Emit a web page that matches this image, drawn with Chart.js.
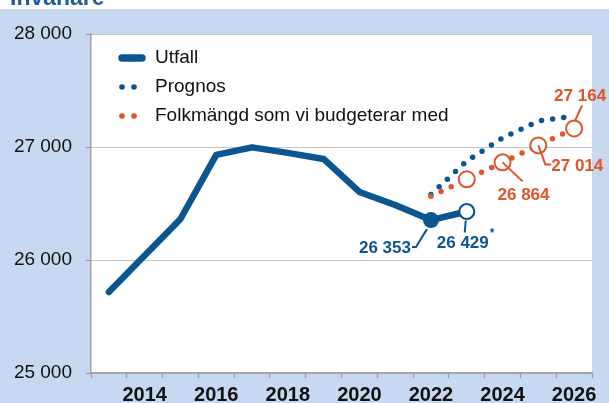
<!DOCTYPE html>
<html>
<head>
<meta charset="utf-8">
<script src="https://cdn.jsdelivr.net/npm/chart.js@4"></script>
<style>
  html, body { margin: 0; padding: 0; background: #fff; overflow: hidden; }
  canvas { display: block; }
</style>
</head>
<body>
<canvas id="myChart" width="609" height="403"></canvas>
<script>
// Data
var years = ['2013', '2014', '2015', '2016', '2017', '2018', '2019', '2020', '2021', '2022', '2023', '2024', '2025', '2026'];
var utfall = [25717, 26040, 26363, 26930, 26997, 26948, 26894, 26602, 26487, 26353, 26429, null, null, null];
var prognos = [null, null, null, null, null, null, null, null, null, 26580, 26876, 27080, 27230, 27274];
var budget = [null, null, null, null, null, null, null, null, null, 26564, 26714, 26864, 27014, 27164];
var seriesNames = ['Utfall', 'Prognos', 'Folkmängd som vi budgeterar med'];
var yMin = 25000, yMax = 28000, yStep = 1000;

var BLUE = '#0b5591';
var ORANGE = '#e0532b';
var FONT = '"Liberation Sans", Arial, sans-serif';

function fmt(v) {
  return String(v).replace(/\B(?=(\d{3})+(?!\d))/g, ' ');
}

// point styling per year: filled dot on last outcome year, open circle on the preliminary one
var utfallRadius = utfall.map(function (v, i) { return i === 9 ? 8 : (i === 10 ? 7.5 : 0); });
var utfallFill = utfall.map(function (v, i) { return i === 10 ? '#fff' : BLUE; });
var utfallBorderW = utfall.map(function (v, i) { return i === 10 ? 2.2 : 0; });
var budgetRadius = budget.map(function (v, i) { return i >= 10 ? 8 : 0; });

// background + title
var bgPlugin = {
  id: 'bg',
  beforeDraw: function (chart) {
    var ctx = chart.ctx, a = chart.chartArea;
    ctx.save();
    ctx.fillStyle = '#c6d9f0';
    ctx.fillRect(0, 9, chart.width, chart.height - 9);
    ctx.fillStyle = '#fff';
    ctx.fillRect(a.left, a.top, a.right - a.left, a.bottom - a.top);
    ctx.fillStyle = '#1f5d99';
    ctx.font = 'bold 23px ' + FONT;
    ctx.textBaseline = 'alphabetic';
    ctx.fillText('Invånare', 10, 5);
    ctx.restore();
  }
};

// legend drawn inside the plot area
var legendPlugin = {
  id: 'innerLegend',
  afterDraw: function (chart) {
    var ctx = chart.ctx, a = chart.chartArea;
    var x0 = a.left + 27, tx = a.left + 64;
    var rows = [a.top + 24, a.top + 53, a.top + 82];
    ctx.save();
    // Utfall: thick bar
    ctx.strokeStyle = BLUE;
    ctx.lineWidth = 7.5;
    ctx.lineCap = 'round';
    ctx.beginPath();
    ctx.moveTo(x0 + 4, rows[0]);
    ctx.lineTo(x0 + 24, rows[0]);
    ctx.stroke();
    // dotted series: two dots
    [BLUE, ORANGE].forEach(function (c, k) {
      ctx.fillStyle = c;
      [x0 + 4, x0 + 16].forEach(function (dx) {
        ctx.beginPath();
        ctx.arc(dx, rows[k + 1], 2.8, 0, Math.PI * 2);
        ctx.fill();
      });
    });
    ctx.fillStyle = '#111';
    ctx.font = '19px ' + FONT;
    ctx.textBaseline = 'middle';
    seriesNames.forEach(function (n, k) { ctx.fillText(n, tx, rows[k]); });
    ctx.restore();
  }
};

// value labels with leader lines, anchored to data points
var callouts = [
  { ds: 0, i: 9, dx: -46, dy: 28, line: [[-4, 9], [-15, 27], [-19, 27]] },
  { ds: 0, i: 10, dx: -4, dy: 32, line: [[-1, 9], [-2, 21]], star: true },
  { ds: 2, i: 11, dx: 21, dy: 33, line: [[0, 0], [20, 19]] },
  { ds: 2, i: 12, dx: 39, dy: 21, line: [[0, 0], [7, 19], [13, 19]] },
  { ds: 2, i: 13, dx: 6, dy: -32, line: [[1, -8], [8, -23]] }
];
var calloutPlugin = {
  id: 'callouts',
  afterDatasetsDraw: function (chart) {
    var ctx = chart.ctx;
    ctx.save();
    callouts.forEach(function (c) {
      var ds = chart.data.datasets[c.ds];
      var pt = chart.getDatasetMeta(c.ds).data[c.i];
      var col = ds.borderColor;
      ctx.strokeStyle = col;
      ctx.lineWidth = 2;
      ctx.lineCap = 'butt';
      ctx.beginPath();
      c.line.forEach(function (p, k) {
        if (k === 0) ctx.moveTo(pt.x + p[0], pt.y + p[1]);
        else ctx.lineTo(pt.x + p[0], pt.y + p[1]);
      });
      ctx.stroke();
      ctx.fillStyle = col;
      ctx.font = 'bold 17px ' + FONT;
      ctx.textAlign = 'center';
      ctx.textBaseline = 'middle';
      var txt = fmt(ds.data[c.i]);
      ctx.fillText(txt, pt.x + c.dx, pt.y + c.dy);
      if (c.star) {
        var w = ctx.measureText(txt).width;
        ctx.font = 'bold 12px ' + FONT;
        ctx.textAlign = 'left';
        ctx.fillText('*', pt.x + c.dx + w / 2 + 1, pt.y + c.dy - 10);
      }
    });
    ctx.restore();
  }
};

var ctx = document.getElementById('myChart').getContext('2d');
var myChart = new Chart(ctx, {
  type: 'line',
  data: {
    labels: years,
    datasets: [{
      label: seriesNames[0],
      data: utfall,
      borderColor: BLUE,
      borderWidth: 6.5,
      borderCapStyle: 'round',
      borderJoinStyle: 'round',
      pointRadius: utfallRadius,
      pointBackgroundColor: utfallFill,
      pointBorderColor: BLUE,
      pointBorderWidth: utfallBorderW,
      order: 0
    }, {
      label: seriesNames[1],
      data: prognos,
      borderColor: BLUE,
      borderWidth: 5.5,
      borderDash: [0, 11.2],
      borderCapStyle: 'round',
      pointRadius: 0,
      order: 2
    }, {
      label: seriesNames[2],
      data: budget,
      borderColor: ORANGE,
      borderWidth: 5.5,
      borderDash: [0, 11.2],
      borderCapStyle: 'round',
      pointRadius: budgetRadius,
      pointBackgroundColor: '#fff',
      pointBorderColor: ORANGE,
      pointBorderWidth: 2,
      order: 1
    }]
  },
  options: {
    responsive: false,
    animation: false,
    layout: { padding: { top: 34, right: 17, left: 0, bottom: 0 } },
    plugins: {
      legend: { display: false },
      tooltip: { enabled: false }
    },
    scales: {
      x: {
        offset: true,
        afterFit: function (s) { s.height = 30; },
        grid: { offset: true, drawOnChartArea: false, drawTicks: true, tickLength: 5, tickColor: '#a0a0a0', tickWidth: 1.3 },
        border: { display: true, color: '#a0a0a0', width: 1.5 },
        ticks: {
          autoSkip: false,
          maxRotation: 0,
          padding: 5,
          color: '#111',
          font: { family: FONT, size: 20, weight: 'bold' },
          callback: function (v, i) { return (+years[i]) % 2 === 0 ? years[i] : ''; }
        }
      },
      y: {
        min: yMin,
        max: yMax,
        afterFit: function (s) { s.width = 91; },
        grid: { color: '#8a8a8a', lineWidth: 1, tickLength: 5, tickColor: '#a0a0a0', tickWidth: 1.3 },
        border: { display: true, color: '#a0a0a0', width: 1.5, dash: [1, 1] },
        ticks: {
          stepSize: yStep,
          padding: 14,
          color: '#111',
          font: { family: FONT, size: 19 },
          callback: function (v) { return fmt(v); }
        }
      }
    }
  },
  plugins: [bgPlugin, legendPlugin, calloutPlugin]
});
</script>
</body>
</html>
